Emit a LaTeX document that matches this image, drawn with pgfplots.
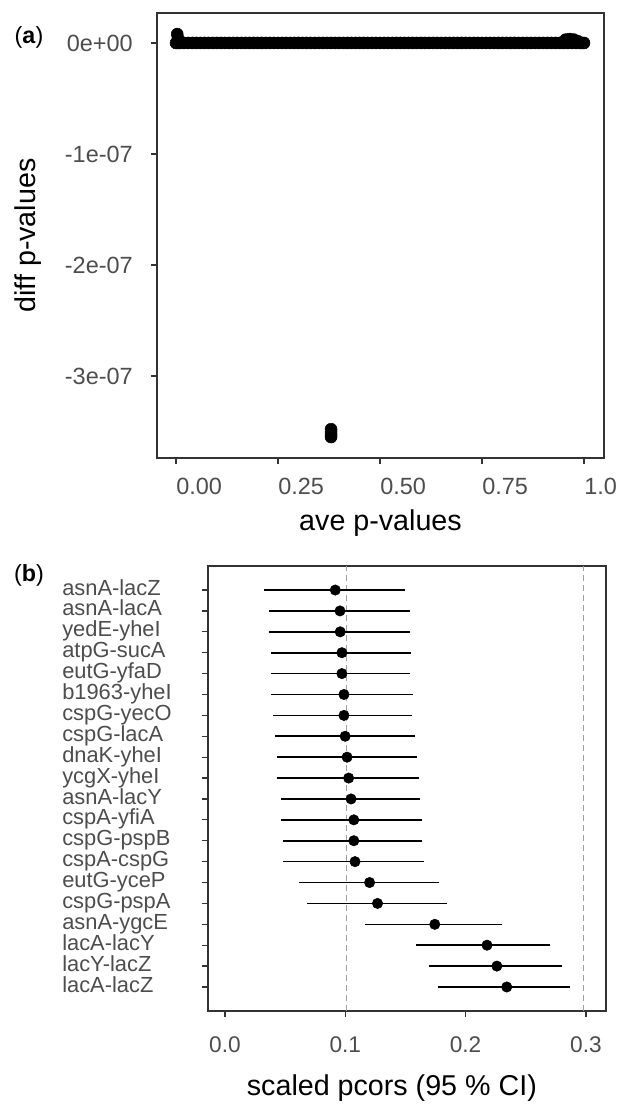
\documentclass[border=0pt]{standalone}
\usepackage{pgfplots}
\pgfplotsset{compat=1.18}
\usepackage{pgfplotstable}
\usepackage{fontspec}
\setmainfont{Liberation Sans}
\definecolor{ticktext}{HTML}{4D4D4D}
\definecolor{frame}{HTML}{333333}
\definecolor{refline}{HTML}{A0A0A0}

\pgfplotstableread{
y pt lo hi
20 0.0917 0.0355 0.1465
19 0.0956 0.0397 0.1508
18 0.0958 0.0400 0.1505
17 0.0972 0.0414 0.1514
16 0.0972 0.0414 0.1508
15 0.0989 0.0414 0.1531
14 0.0989 0.0434 0.1524
13 0.0999 0.0450 0.1547
12 0.1015 0.0463 0.1564
11 0.1028 0.0463 0.1580
10 0.1048 0.0496 0.1590
9  0.1071 0.0496 0.1606
8  0.1071 0.0516 0.1603
7  0.1081 0.0516 0.1623
6  0.1202 0.0647 0.1744
5  0.1268 0.0716 0.1810
4  0.1744 0.1196 0.2273
3  0.2178 0.1620 0.2671
2  0.2260 0.1728 0.2769
1  0.2342 0.1804 0.2835
}\pcors

\begin{document}
\begin{tikzpicture}
\useasboundingbox (0,0) rectangle (464.25pt,-831pt);

\node[font=\fontsize{17.5}{20}\selectfont] at (21.75pt,-27.75pt) {(\textbf{a})};
\node[font=\fontsize{17.5}{20}\selectfont] at (21.75pt,-431.25pt) {(\textbf{b})};

\begin{axis}[
  at={(117.75pt,-343.5pt)}, anchor=south west,
  scale only axis, width=335.25pt, height=333.75pt,
  xmin=-0.0466, xmax=1.049, ymin=-3.739e-7, ymax=2.7e-8,
  axis line style={frame, line width=1pt},
  xtick={0,0.25,0.5,0.75,1}, xticklabels={0.00,0.25,0.50,0.75,1.0},
  ytick={-3e-7,-2e-7,-1e-7,0}, yticklabels={-3e-07,-2e-07,-1e-07,0e+00},
  scaled y ticks=false, scaled x ticks=false,
  xtick pos=left, ytick pos=left,
  tick align=outside, major tick length=4.5pt,
  tick style={frame, line width=0.9pt},
  ticklabel style={font=\fontsize{17.6}{20}\selectfont, text=ticktext},
  /pgf/number format/assume math mode=true,
  xticklabel style={anchor=north west, inner sep=0pt, yshift=-10.5pt},
  yticklabel style={anchor=east, inner sep=0pt, xshift=-13.5pt},
  xlabel={ave p-values}, ylabel={diff p-values},
  label style={font=\fontsize{21.5}{24}\selectfont},
  xlabel style={at={(axis description cs:0.5,-0.146)}, anchor=center},
  ylabel style={at={(axis description cs:-0.2886,0.5)}, anchor=center, rotate=0},
]
\addplot[only marks, mark=*, mark size=4.5pt, black] coordinates {
(0,0) (0.01,0) (0.02,0) (0.03,0) (0.04,0) (0.05,0) (0.06,0) (0.07,0) (0.08,0) (0.09,0)
(0.10,0) (0.11,0) (0.12,0) (0.13,0) (0.14,0) (0.15,0) (0.16,0) (0.17,0) (0.18,0) (0.19,0)
(0.20,0) (0.21,0) (0.22,0) (0.23,0) (0.24,0) (0.25,0) (0.26,0) (0.27,0) (0.28,0) (0.29,0)
(0.30,0) (0.31,0) (0.32,0) (0.33,0) (0.34,0) (0.35,0) (0.36,0) (0.37,0) (0.38,0) (0.39,0)
(0.40,0) (0.41,0) (0.42,0) (0.43,0) (0.44,0) (0.45,0) (0.46,0) (0.47,0) (0.48,0) (0.49,0)
(0.50,0) (0.51,0) (0.52,0) (0.53,0) (0.54,0) (0.55,0) (0.56,0) (0.57,0) (0.58,0) (0.59,0)
(0.60,0) (0.61,0) (0.62,0) (0.63,0) (0.64,0) (0.65,0) (0.66,0) (0.67,0) (0.68,0) (0.69,0)
(0.70,0) (0.71,0) (0.72,0) (0.73,0) (0.74,0) (0.75,0) (0.76,0) (0.77,0) (0.78,0) (0.79,0)
(0.80,0) (0.81,0) (0.82,0) (0.83,0) (0.84,0) (0.85,0) (0.86,0) (0.87,0) (0.88,0) (0.89,0)
(0.90,0) (0.91,0) (0.92,0) (0.93,0) (0.94,0) (0.95,0) (0.96,0) (0.97,0) (0.98,0) (0.99,0)
(1.00,0) (0.005,0) (0.995,0)
(0.003,8e-9) (0.005,4e-9)
(0.955,3e-9) (0.965,3.5e-9) (0.975,3e-9) (0.985,1.5e-9)
(0.38,-3.48e-7) (0.38,-3.505e-7) (0.38,-3.53e-7) (0.38,-3.55e-7)
};
\end{axis}

\begin{axis}[
  at={(156pt,-758.25pt)}, anchor=south west,
  scale only axis, width=298.5pt, height=333.75pt,
  xmin=-0.0141, xmax=0.3167, ymin=-0.15, ymax=21.15,
  axis line style={frame, line width=1pt},
  xtick={0,0.1,0.2,0.3}, xticklabels={0.0,0.1,0.2,0.3},
  ytick={1,2,3,4,5,6,7,8,9,10,11,12,13,14,15,16,17,18,19,20},
  yticklabels={lacA-lacZ,lacY-lacZ,lacA-lacY,asnA-ygcE,cspG-pspA,eutG-yceP,cspA-cspG,cspG-pspB,cspA-yfiA,asnA-lacY,ycgX-yheI,dnaK-yheI,cspG-lacA,cspG-yecO,b1963-yheI,eutG-yfaD,atpG-sucA,yedE-yheI,asnA-lacA,asnA-lacZ},
  xtick pos=left, ytick pos=left,
  tick align=outside, major tick length=4.5pt,
  tick style={frame, line width=0.9pt},
  /pgf/number format/assume math mode=true,
  xticklabel style={font=\fontsize{17}{20}\selectfont, text=ticktext, anchor=north, inner sep=0pt, yshift=-12.75pt},
  yticklabel style={font=\fontsize{16.4}{19}\selectfont, text=ticktext, anchor=west, inner sep=0pt, xshift=-105pt},
  typeset ticklabels with strut,
  xlabel={scaled pcors (95 \% CI)},
  label style={font=\fontsize{21.5}{24}\selectfont},
  xlabel style={at={(axis description cs:0.462,-0.173)}, anchor=center},
]
\addplot[refline, line width=0.8pt, dash pattern=on 4.5pt off 3pt] coordinates {(0.101,-0.15) (0.101,21.15)};
\addplot[refline, line width=0.8pt, dash pattern=on 4.5pt off 3pt] coordinates {(0.298,-0.15) (0.298,21.15)};
\addplot[only marks, mark=*, mark size=3.9pt, black,
  error bars/.cd, x dir=both, x explicit,
  error bar style={line width=1.2pt, black},
  error mark options={mark size=3pt, line width=1.2pt, black}]
  table[x=pt, y=y, x error plus expr=\thisrow{hi}-\thisrow{pt}, x error minus expr=\thisrow{pt}-\thisrow{lo}] {\pcors};
\end{axis}
\end{tikzpicture}
\end{document}
